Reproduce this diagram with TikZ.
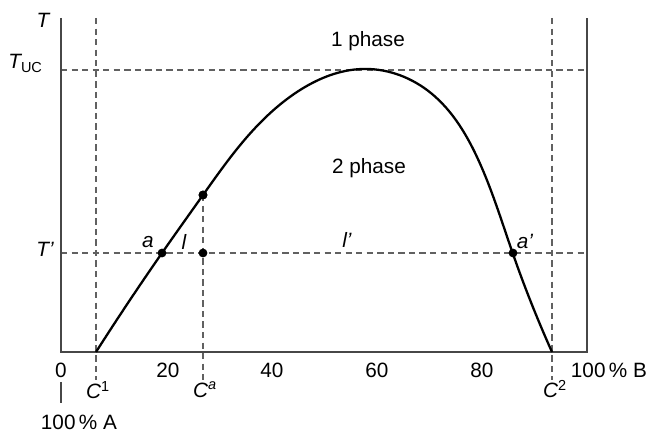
\documentclass[tikz,border=0pt]{standalone}
\usepackage{fontspec}
\setmainfont{Liberation Sans}
\usetikzlibrary{hobby}
\begin{document}
\begin{tikzpicture}[x=0.02cm,y=-0.02cm,
  axis/.style={draw=black!72, line width=0.8pt},
  guide/.style={draw=black!62, line width=0.8pt, dash pattern=on 3.6pt off 2.4pt},
  curve/.style={draw=black, line width=1.3pt},
  dot/.style={circle, fill=black, inner sep=0pt, minimum size=5pt},
  lab/.style={font=\fontsize{11.8}{13}\selectfont, inner sep=0pt},
  ilab/.style={font=\fontsize{11.8}{13}\selectfont\itshape, inner sep=0pt}]
\useasboundingbox (0,0) rectangle (647,432);
% frame coordinates
\coordinate (Ytop) at (61,18);
\coordinate (O) at (61,352);
\coordinate (Xend) at (587,352);
\coordinate (Rtop) at (587,18);
\coordinate (barT) at (61,382);
\coordinate (barB) at (61,403);
% guide coordinates
\coordinate (tucL) at (61,70);
\coordinate (tucR) at (587,70);
\coordinate (tpL) at (61,253);
\coordinate (tpR) at (587,253);
\coordinate (c1T) at (96,18);
\coordinate (c1B) at (96,380);
\coordinate (caB) at (203,380);
\coordinate (c2T) at (552,18);
\coordinate (c2B) at (552,380);
% dashed guides
\draw[guide] (tucL) -- (tucR);
\draw[guide] (tpL) -- (tpR);
\draw[guide] (c1T) -- (c1B);
\draw[guide] (c2T) -- (c2B);
\node[dot] (cu) at (203,195) {};
\draw[guide] (cu.center) -- (caB);
% axes
\draw[axis] (Ytop) -- (O) -- (Xend) -- (Rtop);
\draw[axis] (barT) -- (barB);
% coexistence curve
\draw[curve, use Hobby shortcut] (96,352) .. (162,253) .. (203,195) .. (247,137) .. (297,92) .. (362,69) .. (427,90) .. (477,157) .. (513,254) .. (552,352);
% dots
\node[dot] (a) at (162,253) {};
\node[dot] (ca) at (203,253) {};
\node[dot] (ap) at (513,253) {};
\node[dot] at (cu) {};
% labels
\node[ilab] (T) at (43,20) {T};
\node[ilab, anchor=base west] (Tuc) at (8,69) {T\textsubscript{\upshape UC}};
\node[ilab] (Tp) at (45,249) {T’};
\node[ilab] (la) at (148,242) {a};
\node[ilab] (ll) at (184,242) {l};
\node[ilab] (llp) at (347,240) {l’};
\node[ilab] (lap) at (525,241) {a’};
\node[lab] (p1) at (368,41) {1 phase};
\node[lab] (p2) at (369,168) {2 phase};
\node[lab] (t0) at (61,370) {0};
\node[lab] (t20) at (168,370) {20};
\node[lab] (t40) at (272,370) {40};
\node[lab] (t60) at (377,370) {60};
\node[lab] (t80) at (482,370) {80};
\node[lab] (tB) at (609,370) {100\,\% B};
\node[lab] (tA) at (79,422) {100\,\% A};
\node[ilab] (C1) at (98,390) {C\textsuperscript{\upshape 1}};
\node[ilab] (Ca) at (205,390) {C\textsuperscript{a}};
\node[ilab] (C2) at (555,389) {C\textsuperscript{\upshape 2}};
\end{tikzpicture}
\end{document}
